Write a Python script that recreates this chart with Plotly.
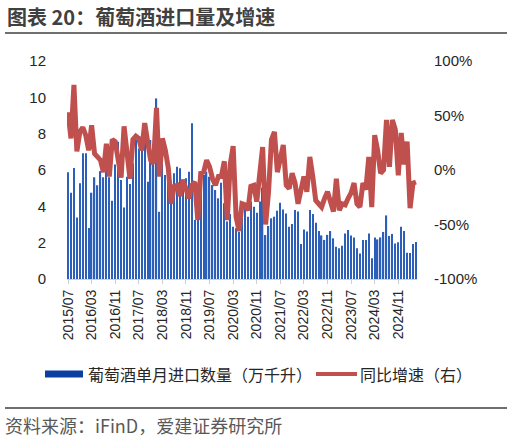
import pandas as pd
import plotly.graph_objects as go

# měsíční data 2015/07 - 2025/05
months = pd.date_range("2015-07-01", "2025-05-01", freq="MS").strftime("%Y/%m").tolist()

import_volume = [
    5.87, 4.75, 6.11, 3.38, 5.27, 6.92, 6.92, 2.81, 4.75, 5.60,
    5.16, 5.94, 5.60, 6.00, 5.60, 4.31, 6.30, 7.56, 5.45, 3.93,
    5.63, 5.23, 6.37, 7.65, 7.19, 7.10, 7.83, 5.36, 7.65, 6.80,
    9.94, 3.70, 6.40, 5.72, 5.50, 4.44, 5.82, 6.18, 6.09, 5.45,
    5.54, 5.91, 8.57, 3.25, 3.25, 5.60, 5.72, 5.91, 5.63, 5.17,
    4.90, 4.44, 5.30, 4.17, 3.16, 3.58, 2.88, 2.79, 2.60, 3.90,
    3.89, 3.43, 4.26, 3.98, 3.65, 4.26, 5.03, 2.42, 2.92, 3.34,
    3.43, 3.76, 4.20, 3.83, 3.61, 2.88, 3.03, 3.80, 3.71, 1.93,
    2.73, 2.62, 3.80, 3.58, 3.10, 2.64, 2.40, 2.15, 2.43, 2.64,
    2.24, 1.78, 1.69, 1.83, 2.51, 2.70, 2.39, 2.29, 1.69, 1.41,
    2.15, 2.15, 2.51, 1.14, 2.28, 2.18, 2.29, 2.59, 3.50, 2.37,
    2.48, 1.96, 2.02, 2.88, 2.64, 1.45, 1.43, 1.93, 2.04,
]

yoy_growth = [
    53, 29, 78, 17, 35, 39, 32, 18, 41, 15,
    12, 9, -2, 24, -6, 28, 26, 12, -7, 40,
    15, -8, 28, 31, 29, 18, 43, 28, 9, 6,
    57, -6, 29, 18, 2, -31, -15, -14, -24, -9,
    -18, -26, -14, -11, -46, -3, -2, 9, 3, -8,
    -14, -6, -6, 8, -46, 5, 22, -43, -56, -31,
    -32, -37, -15, -14, -29, -5, 21, -50, -20, 28,
    35, -2, 12, 23, -14, -17, -3, -12, -31, -18,
    -6, -20, 12, -6, -28, -31, -34, -26, -20, -29,
    -38, -8, -37, -31, -32, -26, -21, -12, -31, -34,
    -12, -18, 12, -34, 32, 18, -3, 0, 46, 3,
    46, 37, -5, 34, 5, 26, -35, -12, -11,
]

tick_labels = months[::8]

left_ticks = [0, 2, 4, 6, 8, 10, 12]
right_ticks = [-100, -50, 0, 50, 100]
right_labels = ["-100%", "-50%", "0%", "50%", "100%"]

title_text = "<b>图表 20：葡萄酒进口量及增速</b>"
bar_name = "葡萄酒单月进口数量（万千升）"
line_name = "同比增速（右）"
source_text = "资料来源：iFinD，爱建证券研究所"

W, H = 512, 439
L, R, T, B = 67, 95, 61, 160
pw, ph = W - L - R, H - T - B

blue = "#2c5fba"
red = "#c0504d"
cjk = "Noto Sans CJK SC, Microsoft YaHei, sans-serif"
num = "Liberation Sans, Noto Sans CJK SC, sans-serif"


def px_x(x):
    return (x - L) / pw


def px_y(y):
    return (H - B - y) / ph


fig = go.Figure()
fig.add_trace(go.Bar(x=months, y=import_volume, name=bar_name,
                     marker=dict(color=blue, line=dict(width=0)), yaxis="y"))
fig.add_trace(go.Scatter(x=months, y=yoy_growth, name=line_name, mode="lines",
                         line=dict(color=red, width=5), yaxis="y2"))

fig.update_layout(
    width=W, height=H, autosize=False,
    margin=dict(l=L, r=R, t=T, b=B),
    plot_bgcolor="white", paper_bgcolor="white",
    showlegend=False, bargap=0.56,
    font=dict(family=num, color="#262626", size=14),
    xaxis=dict(type="category", range=[-0.35, len(months) - 0.65],
               tickvals=tick_labels, ticktext=tick_labels, tickangle=-90,
               showgrid=False, showline=True, linecolor="#d0d0d0", linewidth=1,
               ticks="outside", ticklen=4, tickcolor="#d0d0d0",
               tickfont=dict(size=14, family=num, color="#262626")),
    yaxis=dict(range=[0, 12], tickvals=left_ticks, showgrid=False, zeroline=False,
               showline=False, ticks="", ticklabelstandoff=20,
               tickfont=dict(size=15, family=num, color="#262626")),
    yaxis2=dict(range=[-100, 100], tickvals=right_ticks, ticktext=right_labels,
                overlaying="y", side="right", showgrid=False, zeroline=False,
                showline=False, ticks="", ticklabelstandoff=16,
                tickfont=dict(size=15, family=num, color="#262626")),
)

# titulek, čáry, zdroj
fig.add_annotation(text=title_text, xref="paper", yref="paper",
                   x=px_x(5), y=px_y(16), xanchor="left", yanchor="middle",
                   showarrow=False, font=dict(size=20, family=cjk, color="#404040"))
fig.add_annotation(text=source_text, xref="paper", yref="paper",
                   x=px_x(3), y=px_y(425), xanchor="left", yanchor="middle",
                   showarrow=False, font=dict(size=18, family=cjk, color="#595959"))
for yy in (33, 408):
    fig.add_shape(type="line", xref="paper", yref="paper",
                  x0=px_x(5), x1=px_x(507), y0=px_y(yy), y1=px_y(yy),
                  line=dict(color="#404040", width=1.3))

# legenda
fig.add_shape(type="rect", xref="paper", yref="paper",
              x0=px_x(45), x1=px_x(83), y0=px_y(370.5), y1=px_y(377.5),
              fillcolor="#0b3fa0", line=dict(width=0))
fig.add_annotation(text=bar_name, xref="paper", yref="paper",
                   x=px_x(86), y=px_y(374), xanchor="left", yanchor="middle",
                   showarrow=False, font=dict(size=16, family=cjk, color="#262626"))
fig.add_shape(type="line", xref="paper", yref="paper",
              x0=px_x(316), x1=px_x(357), y0=px_y(374), y1=px_y(374),
              line=dict(color=red, width=4))
fig.add_annotation(text=line_name, xref="paper", yref="paper",
                   x=px_x(358), y=px_y(374), xanchor="left", yanchor="middle",
                   showarrow=False, font=dict(size=16, family=cjk, color="#262626"))

fig.write_html("out.html", config={"displayModeBar": False},
               post_script="document.body.style.margin='0';")
